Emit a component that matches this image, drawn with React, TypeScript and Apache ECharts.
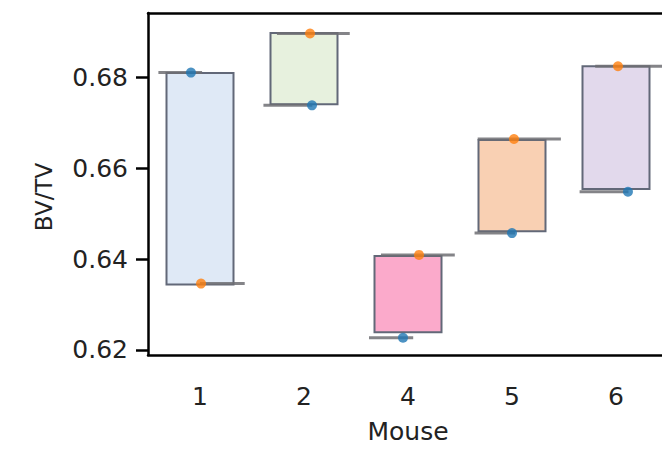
import React, { useEffect, useRef } from "react";
import * as echarts from "echarts";

const categories = ["1", "2", "4", "5", "6"];
const boxLow = [0.6342, 0.6738, 0.6237, 0.6459, 0.6552];
const boxHigh = [0.6811, 0.6899, 0.6409, 0.6664, 0.6826];
const boxColors = ["#dfe9f6", "#e7f1de", "#fbaacb", "#f9d0b3", "#e2d9ec"];
const blueValues = [0.681, 0.6738, 0.6227, 0.6457, 0.6548];
const orangeValues = [0.6346, 0.6896, 0.6409, 0.6664, 0.6824];
const blueOffsets = [-0.087, 0.077, -0.048, 0.0, 0.115];
const orangeOffsets = [0.01, 0.058, 0.106, 0.019, 0.019];
const topWhiskerStart = [-0.4, -0.26, -0.26, -0.33, -0.2];
const topWhiskerEnd = [0.02, 0.44, 0.45, 0.47, 0.47];
const bottomWhiskerStart = [0.0, -0.39, -0.375, -0.36, -0.35];
const bottomWhiskerEnd = [0.43, 0.08, 0.05, 0.03, 0.12];
const yTicks = [0.62, 0.64, 0.66, 0.68];

const FONT = "DejaVu Sans";

export default function App() {
  const ref = useRef<HTMLDivElement>(null);
  useEffect(() => {
    if (!ref.current) return;
    const chart = echarts.init(ref.current, null, { renderer: "svg" });

    const whiskers: number[][] = [];
    categories.forEach((_, i) => {
      const top = Math.max(blueValues[i], orangeValues[i]);
      const bot = Math.min(blueValues[i], orangeValues[i]);
      whiskers.push([i + topWhiskerStart[i], i + topWhiskerEnd[i], top]);
      whiskers.push([i + bottomWhiskerStart[i], i + bottomWhiskerEnd[i], bot]);
    });

    chart.setOption({
      animation: false,
      backgroundColor: "#ffffff",
      grid: { left: 148, top: 13, right: 2, bottom: 94 },
      xAxis: [
        {
          type: "category",
          data: categories,
          position: "bottom",
          name: "Mouse",
          nameLocation: "middle",
          nameGap: 64,
          nameTextStyle: { fontFamily: FONT, fontSize: 25, color: "#222" },
          axisLine: { onZero: false, lineStyle: { color: "#000", width: 2.5 } },
          axisTick: { alignWithLabel: true, length: 12, lineStyle: { color: "#000", width: 2.5 } },
          axisLabel: { margin: 29, fontFamily: FONT, fontSize: 25, color: "#222" },
          splitLine: { show: false },
        },
        {
          type: "value",
          min: -0.5,
          max: 4.5,
          position: "top",
          axisLine: { show: true, onZero: false, lineStyle: { color: "#000", width: 2.5 } },
          axisTick: { show: false },
          axisLabel: { show: false },
          splitLine: { show: false },
        },
      ],
      yAxis: {
        type: "value",
        min: 0.6189,
        max: 0.6941,
        axisLine: { show: true, onZero: false, lineStyle: { color: "#000", width: 2.5 } },
        axisTick: { show: true, length: 12, customValues: yTicks, lineStyle: { color: "#000", width: 2.5 } },
        axisLabel: {
          customValues: yTicks,
          margin: 20,
          fontFamily: FONT,
          fontSize: 25,
          color: "#222",
          formatter: (v: number) => v.toFixed(2),
        },
        splitLine: { show: false },
      },
      graphic: [
        {
          type: "text",
          x: 44,
          y: 197,
          rotation: Math.PI / 2,
          style: {
            text: "BV/TV",
            fontFamily: FONT,
            fontSize: 23,
            fill: "#222",
            align: "center",
            verticalAlign: "middle",
          },
        },
        { type: "line", shape: { x1: 8, y1: 4, x2: 238, y2: 4 }, style: { stroke: "#a9c0b4", lineWidth: 1 } },
        { type: "line", shape: { x1: 580, y1: 4, x2: 670, y2: 4 }, style: { stroke: "#a9c0b4", lineWidth: 1 } },
      ],
      series: [
        {
          type: "bar",
          xAxisIndex: 0,
          stack: "box",
          barWidth: 69,
          silent: true,
          itemStyle: { color: "transparent" },
          data: boxLow,
        },
        {
          type: "bar",
          xAxisIndex: 0,
          stack: "box",
          barWidth: 69,
          data: boxLow.map((lo, i) => ({
            value: boxHigh[i] - lo,
            itemStyle: { color: boxColors[i], borderColor: "#626878", borderWidth: 2 },
          })),
        },
        {
          type: "custom",
          xAxisIndex: 1,
          encode: { x: [0, 1], y: 2 },
          data: whiskers,
          renderItem: (params: any, api: any) => {
            const p1 = api.coord([api.value(0), api.value(2)]);
            const p2 = api.coord([api.value(1), api.value(2)]);
            return {
              type: "line",
              shape: { x1: p1[0], y1: p1[1], x2: p2[0], y2: p2[1] },
              style: { stroke: "rgba(110,110,115,0.85)", lineWidth: 3 },
            };
          },
          z: 3,
        },
        {
          type: "scatter",
          xAxisIndex: 1,
          symbolSize: 10,
          itemStyle: { color: "#1f77b4" },
          data: blueValues.map((v, i) => [i + blueOffsets[i], v]),
          z: 4,
        },
        {
          type: "scatter",
          xAxisIndex: 1,
          symbolSize: 10,
          itemStyle: { color: "#ff7f0e" },
          data: orangeValues.map((v, i) => [i + orangeOffsets[i], v]),
          z: 4,
        },
      ],
    });
    return () => chart.dispose();
  }, []);
  return <div ref={ref} style={{ width: 670, height: 449, margin: -8 }} />;
}
